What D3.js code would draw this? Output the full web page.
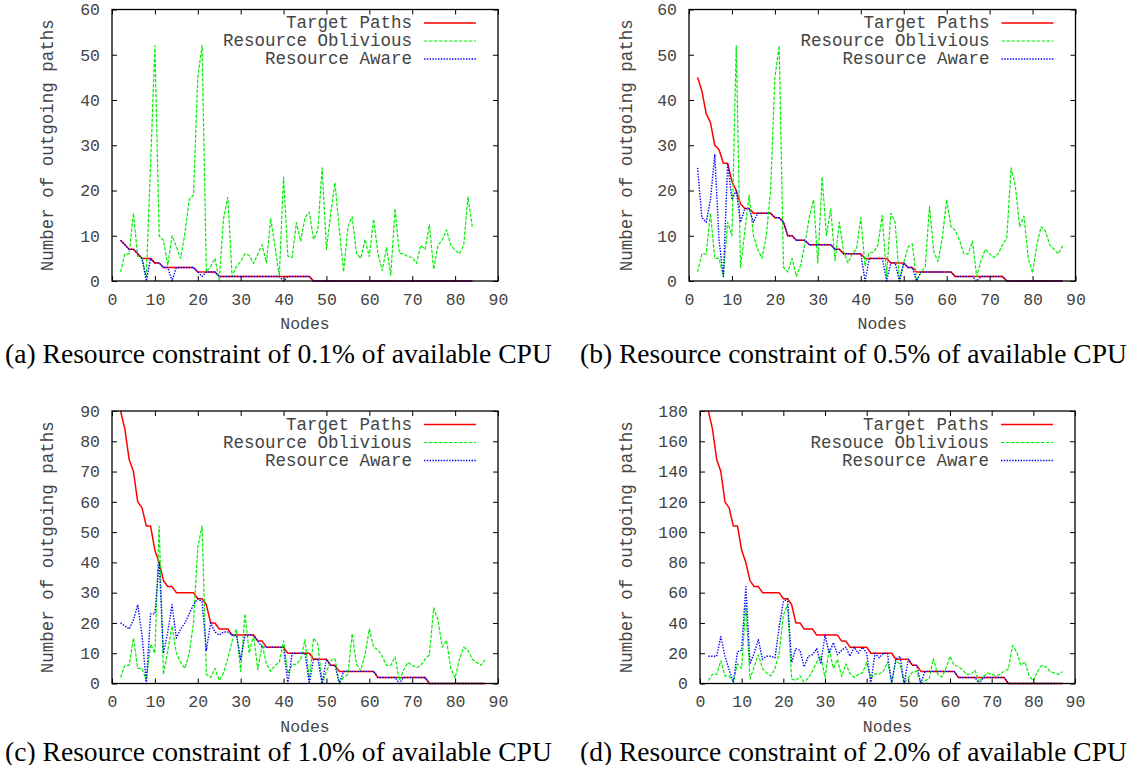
<!DOCTYPE html>
<html><head><meta charset="utf-8">
<script src="https://cdn.jsdelivr.net/npm/d3@7"></script>
<style>body{margin:0;background:#fff} svg{display:block}</style>
</head><body>
<svg id="chart" width="1135" height="765"></svg>
<script>
// ---------------- DATA ----------------
const xTicks = [0,10,20,30,40,50,60,70,80,90];
const yTicksTop = [0,10,20,30,40,50,60];
const yTicksC = [0,10,20,30,40,50,60,70,80,90];
const yTicksD = [0,20,40,60,80,100,120,140,160,180];
const firstNode = 2;
const seriesNames = ["Target Paths", "Resource Oblivious", "Resource Aware"];
const seriesNamesD = ["Target Paths", "Resouce Oblivious", "Resource Aware"];
const captions = [
  "(a) Resource constraint of 0.1% of available CPU",
  "(b) Resource constraint of 0.5% of available CPU",
  "(c) Resource constraint of 1.0% of available CPU",
  "(d) Resource constraint of 2.0% of available CPU"
];

// panel (a)
const targetA = [9,8,7,7,6,5,5,5,4,4, 3,3,3,3,3,3,3,3, 2,2,2,2,2,
  1,1,1,1,1,1,1,1,1,1,1,1,1,1,1,1,1,1,1,1,1,1,
  0,0,0,0,0,0,0,0,0,0,0,0,0,0,0,0,0,0,0,0,0,0,0,0,0,0,0,0,0,0,0,0,0,0,0,0,0,0];
const obliviousA = [2,6,6,15,5.4,5,1,26,52,10,
  9,3.5,10,7.6,5,10.5,18,19,45,52,
  2,3.2,5,0,13.8,18.5,1,3.2,4.3,6,
  5.7,3.9,6,8,4,13.8,7.6,1.1,23,5.5,
  5.2,12.9,8.8,14,15.2,9.2,11.3,25,7,15,
  21.7,11.3,2,12,14.2,6.1,5,9.2,5.4,13.7,
  6.1,2.3,7.4,1.3,16,6.1,6,5.4,5.2,3.9,
  7.9,7,12.4,2.6,7.9,9,11.3,7.9,6.8,6,
  7.9,18.6,12];
const awareA = [9,8,7,7,6,5,0,5,4,4, 3,3,0,3,3,3,3,3, 2,1,2,2,2,
  1,1,1,1,1,1,1,1,1,1,1,1,1,1,1, 0, 1,1,1,1,1,1,
  0,0,0,0,0,0,0,0,0,0,0,0,0,0,0,0,0,0,0,0,0,0,0,0,0,0,0,0,0,0,0,0,0,0,0,0,0,0];

// resource oblivious (same workload in b, c, d)
const obliviousBCD = [2,6,6,15,5,5,1,13,10,52,
  3,11,19,10,7,5,10,20,45,52,
  3,2,5,1,3.5,8.3,14,18,4,23,
  10,16,4.5,13,6.5,4,6,7,14,3.3,
  6.3,6.3,8,14.5,1,15,13,0,4,7.5,
  8.2,0,2,3,16.5,6.4,4.3,9.7,18,12,
  11.2,9,6,6,8.8,1,4.5,7,6,5.2,
  6,8,9.5,25,21,12,14.3,5,1.8,8,
  12,11,8,7,6,7.8];

// panel (b)
const targetB = [45,42,37,35,30,29,26,26,22,20,
  17,16,16,15,15,15,15,15,14,14,
  13,10,10,9,9,9,8,8,8,8,
  8,8,7,7,6,6,6,6,6,5,
  5,5,5,5,5,4,4,4,4,3,
  3,2,2,2,2,2,2,2,2,2,
  1,1,1,1,1,1,1,1,1,1,
  1,1,0,0,0,0,0,0,0,0,
  0,0,0,0,0,0];
const awareB = [25,14,13,18,28,9,1,26,18,20,
  13,16,16,13,15,15,15,15,14,14,
  13,10,10,9,9,9,8,8,8,8,
  8,8,7,7,6,6,6,6,6,0,
  5,5,5,5,0,4,4,0,4,3,
  3,0,2,2,2,2,2,2,2,2,
  1,1,1,1,1,0,1,1,1,1,
  1,1,0,0,0,0,0,0,0,0,
  0,0,0,0,0,0];

// panel (c)
const targetC = [90,84,74,70,60,58,52,52,44,40,
  34,32,32,30,30,30,30,30,28,28,
  26,20,20,18,18,18,16,16,16,16,
  16,16,14,14,12,12,12,12,12,10,
  10,10,10,10,10,8,8,8,8,6,
  6,4,4,4,4,4,4,4,4,4,
  2,2,2,2,2,2,2,2,2,2,
  2,2,0,0,0,0,0,0,0,0,
  0,0,0,0,0,0];
const awareC = [20,19,18,21,26,16,0,23,23,40,
  10,17,26,15,18,20,23,26,28,27,
  11,20,17,16,17,17,16,16,8,16,
  16,16,14,12,12,12,12,12,12,0,
  10,10,10,10,0,8,8,0,8,6,
  6,0,4,4,4,4,4,4,4,4,
  2,2,2,2,2,0,2,2,2,2,
  2,2,0,0,0,0,0,0,0,0,
  0,0,0,0,0,0];

// panel (d)
const targetD = [180,168,148,140,120,116,104,104,88,80,
  68,64,64,60,60,60,60,60,56,56,
  52,40,40,36,36,36,32,32,32,32,
  32,32,28,28,24,24,24,24,24,20,
  20,20,20,20,20,16,16,16,16,12,
  12,8,8,8,8,8,8,8,8,8,
  4,4,4,4,4,4,4,4,4,4,
  4,4,0,0,0,0,0,0,0,0,
  0,0,0,0,0,0];
const awareD = [18,18,18,31,18,9,1,21,22,64,
  13,20,29,16,18,18,17,37,54,56,
  14,23,22,11,18,19,23,13,32,20,
  27,19,22,24,18,24,20,24,20,0,
  20,17,20,20,0,16,18,0,16,12,
  12,0,8,8,8,8,8,8,8,8,
  4,4,4,4,4,0,4,4,4,4,
  4,4,0,0,0,0,0,0,0,0,
  0,0,0,0,0,0];

// ---------------- LAYOUT ----------------
const panels = [
  {left:112, right:498, top:9.5, bottom:281, ymax:60, yTicks:yTicksTop,
   series:[targetA, obliviousA, awareA], names:seriesNames, caption:captions[0],
   ylabelX:48, capX:5, capY:353},
  {left:689, right:1075.5, top:9.5, bottom:281, ymax:60, yTicks:yTicksTop,
   series:[targetB, obliviousBCD, awareB], names:seriesNames, caption:captions[1],
   ylabelX:627, capX:580, capY:353},
  {left:112, right:498, top:411, bottom:683.5, ymax:90, yTicks:yTicksC,
   series:[targetC, obliviousBCD, awareC], names:seriesNames, caption:captions[2],
   ylabelX:48, capX:5, capY:751},
  {left:700, right:1075, top:411, bottom:683.5, ymax:180, yTicks:yTicksD,
   series:[targetD, obliviousBCD, awareD], names:seriesNamesD, caption:captions[3],
   ylabelX:627, capX:580, capY:751}
];
const styles = [
  {color:"#ff0000", width:1.5, dash:null},
  {color:"#00ee00", width:1.2, dash:"3.5,1.5"},
  {color:"#0000ff", width:1.4, dash:"1.4,1.4"}
];
const mono = "'Liberation Mono', 'DejaVu Sans Mono', monospace";
const textCol = "#444";

const svg = d3.select("#chart");

panels.forEach(p => {
  const x = d3.scaleLinear().domain([0, 90]).range([p.left, p.right]);
  const y = d3.scaleLinear().domain([0, p.ymax]).range([p.bottom, p.top]);
  const g = svg.append("g");

  // series
  const line = d3.line().x((d, i) => x(firstNode + i)).y(d => y(d));
  p.series.forEach((s, k) => {
    const st = styles[k];
    g.append("path").datum(s).attr("d", line)
      .attr("fill", "none").attr("stroke", st.color)
      .attr("stroke-width", st.width)
      .attr("stroke-dasharray", st.dash)
      .attr("stroke-linejoin", "round");
  });

  // axes with inward ticks on all sides
  const styleAxis = sel => {
    sel.select(".domain").remove();
    sel.selectAll(".tick line").attr("stroke", "#000").attr("stroke-width", 1);
    sel.selectAll(".tick text").attr("fill", textCol)
      .style("font-family", mono).style("font-size", "16.5px");
  };
  g.append("g").attr("transform", `translate(0,${p.bottom})`)
    .call(d3.axisBottom(x).tickValues(xTicks).tickSizeInner(-5).tickSizeOuter(0).tickPadding(12).tickFormat(d3.format("d")))
    .call(styleAxis);
  g.append("g").attr("transform", `translate(0,${p.top})`)
    .call(d3.axisTop(x).tickValues(xTicks).tickSizeInner(-5).tickSizeOuter(0).tickFormat(""))
    .call(styleAxis);
  g.append("g").attr("transform", `translate(${p.left},0)`)
    .call(d3.axisLeft(y).tickValues(p.yTicks).tickSizeInner(-5).tickSizeOuter(0).tickPadding(12).tickFormat(d3.format("d")))
    .call(styleAxis);
  g.append("g").attr("transform", `translate(${p.right},0)`)
    .call(d3.axisRight(y).tickValues(p.yTicks).tickSizeInner(-5).tickSizeOuter(0).tickFormat(""))
    .call(styleAxis);

  // frame
  g.append("rect").attr("x", p.left).attr("y", p.top)
    .attr("width", p.right - p.left).attr("height", p.bottom - p.top)
    .attr("fill", "none").attr("stroke", "#000").attr("stroke-width", 1.3);

  // legend
  p.names.forEach((name, k) => {
    const ly = p.top + 13.5 + 18 * k;
    g.append("text").attr("x", p.right - 86).attr("y", ly)
      .attr("text-anchor", "end").attr("dominant-baseline", "central")
      .attr("fill", textCol).style("font-family", mono).style("font-size", "17.5px")
      .text(name);
    const st = styles[k];
    g.append("line").attr("x1", p.right - 74).attr("x2", p.right - 22)
      .attr("y1", ly).attr("y2", ly)
      .attr("stroke", st.color).attr("stroke-width", st.width)
      .attr("stroke-dasharray", st.dash);
  });

  // axis labels
  g.append("text").attr("x", (p.left + p.right) / 2).attr("y", p.bottom + 43.5)
    .attr("text-anchor", "middle").attr("dominant-baseline", "central")
    .attr("fill", textCol).style("font-family", mono).style("font-size", "16.5px")
    .text("Nodes");
  const cy = (p.top + p.bottom) / 2;
  g.append("text").attr("transform", `translate(${p.ylabelX},${cy}) rotate(-90)`)
    .attr("text-anchor", "middle").attr("dominant-baseline", "central")
    .attr("fill", textCol).style("font-family", mono).style("font-size", "17.5px")
    .text("Number of outgoing paths");

  // caption
  const cap = g.append("text").attr("x", p.capX).attr("y", p.capY)
    .attr("dominant-baseline", "central").attr("fill", "#000")
    .style("font-family", "'Liberation Serif', 'Times New Roman', serif")
    .style("font-size", "22px").text(p.caption);
  const w = cap.node().getComputedTextLength();
  cap.style("font-size", (22 * 547 / w).toFixed(2) + "px");
});
</script>
</body></html>
